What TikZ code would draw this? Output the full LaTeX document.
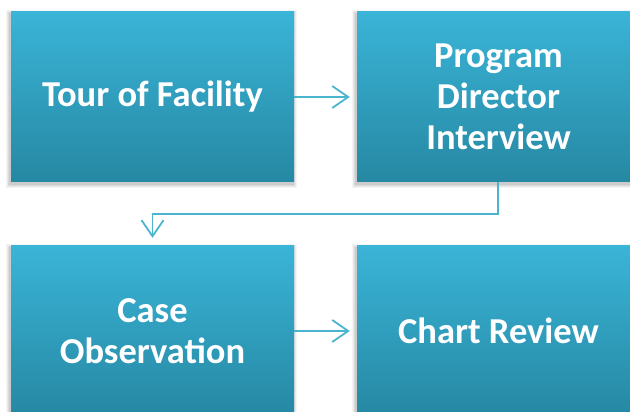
\documentclass[tikz,border=0pt]{standalone}
\usepackage{fontspec}
\setmainfont{Carlito}
\usetikzlibrary{arrows.meta,calc}
\definecolor{boxtop}{RGB}{58,180,215}
\definecolor{boxbot}{RGB}{38,136,163}
\definecolor{linkcol}{RGB}{75,180,207}
\tikzset{
  stepbox/.style={minimum width=283pt, minimum height=170pt, inner sep=0pt,
    top color=boxtop, bottom color=boxbot, draw=none,
    text=white, font=\fontsize{36.5}{41}\selectfont\bfseries, align=center},
  link/.style={draw=linkcol, line width=1.8pt,
    -{Straight Barb[length=16pt,width=22pt,line width=1.8pt]}},
}
% soft shadow behind a box given by its centre
\newcommand{\softshadow}[1]{%
  \foreach \s/\o in {4/0.04,3/0.05,2/0.06,1/0.07}{%
    \fill[black,opacity=\o] ($(#1)+(-141.5pt-\s pt-1pt,-85pt-\s pt-2pt)$) rectangle ($(#1)+(141.5pt+\s pt-1pt,85pt+\s pt-2pt)$);
  }}
\begin{document}
\begin{tikzpicture}[x=1pt,y=1pt]
\useasboundingbox (0,0) rectangle (630,412);
\clip (0,0) rectangle (630,412);
% box centres (y measured from the bottom edge)
\coordinate (c1) at (152.5,315);
\coordinate (c2) at (498.5,315);
\coordinate (c3) at (152.5,81);
\coordinate (c4) at (498.5,81);
\softshadow{c1}\softshadow{c2}\softshadow{c3}\softshadow{c4}
\node[stepbox] (tour) at (c1) {Tour of Facility};
\node[stepbox] (dir) at (c2) {Program\\Director\\Interview};
\node[stepbox] (case) at (c3) {Case\\Observation};
\node[stepbox] (chart) at (c4) {Chart Review};
% connectors
\draw[link] (tour.east) -- ([xshift=-7pt]dir.west);
\draw[link] (case.east) -- ([xshift=-7pt]chart.west);
\draw[link] ([xshift=-0.5pt]dir.south) -- ++(0,-32pt) -| ([yshift=8pt]case.north);
\end{tikzpicture}
\end{document}
